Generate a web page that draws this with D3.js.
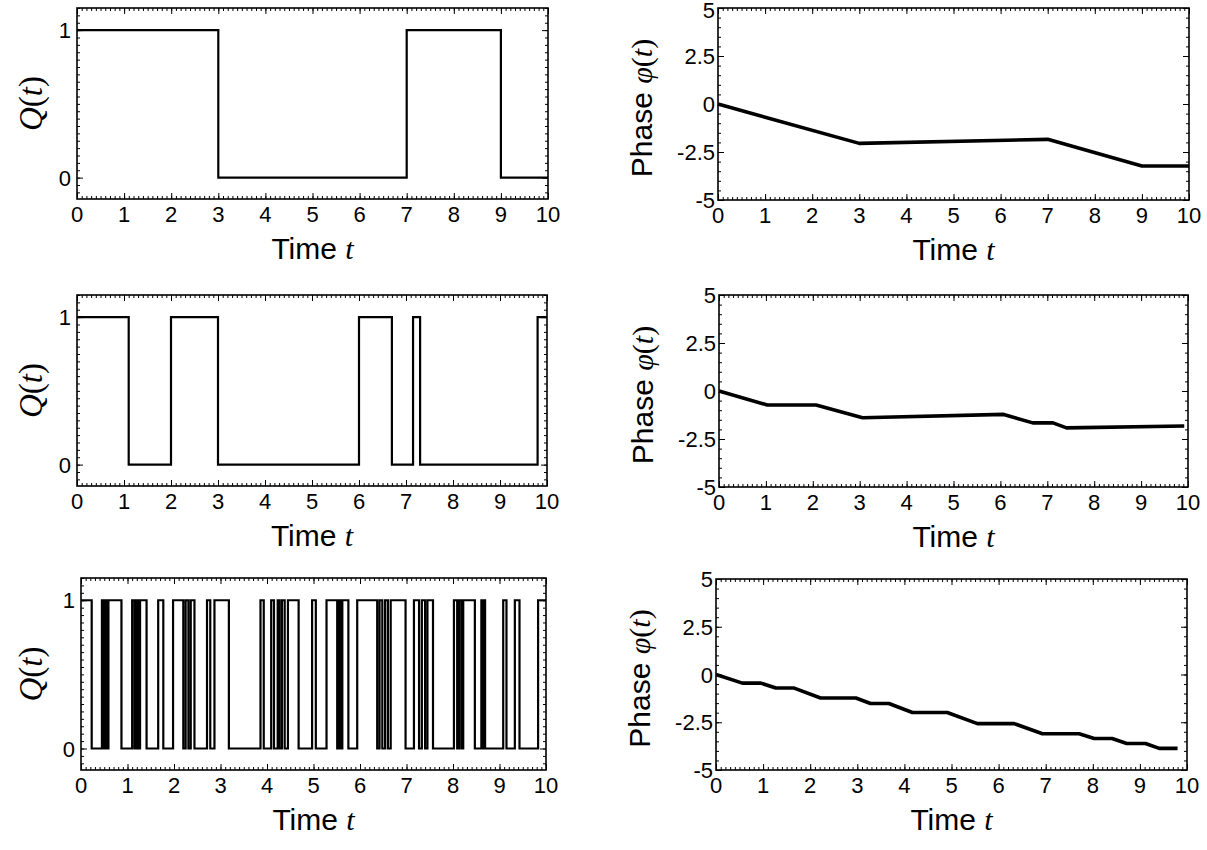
<!DOCTYPE html>
<html>
<head>
<meta charset="utf-8">
<script src="https://cdn.jsdelivr.net/npm/d3@7"></script>
<style>
  body { margin: 0; background: #fff; }
  text { fill: #000; }
</style>
</head>
<body>
<svg id="fig" width="1207" height="850"></svg>
<script>
// ---- data ----
var timeTicks = [0, 1, 2, 3, 4, 5, 6, 7, 8, 9, 10];
var qTicks = [0, 1];
var phaseTicks = [-5, -2.5, 0, 2.5, 5];

// times where Q(t) flips, Q starts at 1
var q1Switch = [3, 7, 9];
var q2Switch = [1.1, 2.0, 3.0, 6.0, 6.7, 7.15, 7.3, 9.8];
var q3Switch = [0.23, 0.45, 0.49, 0.53, 0.56, 0.59, 0.87, 1.10, 1.15, 1.19, 1.23, 1.27,
                1.41, 1.66, 1.77, 1.98, 2.20, 2.25, 2.31, 2.36, 2.44, 2.71, 2.78, 2.87,
                3.18, 3.86, 3.93, 4.09, 4.15, 4.23, 4.27, 4.32, 4.38, 4.45, 4.68, 4.97,
                5.05, 5.28, 5.51, 5.55, 5.58, 5.62, 5.75, 5.94, 6.37, 6.42, 6.48, 6.54,
                6.60, 6.66, 6.98, 7.16, 7.27, 7.33, 7.40, 7.45, 7.57, 8.02, 8.09, 8.13,
                8.18, 8.22, 8.47, 8.61, 8.65, 8.67, 8.69, 9.08, 9.15, 9.33, 9.43, 9.83];

// phase curves (breakpoints)
var phase1T = [0, 3, 7, 9, 10];
var phase1V = [0, -2.05, -1.84, -3.23, -3.23];
var phase2T = [0, 1.03, 2.07, 3.06, 6.07, 6.69, 7.12, 7.41, 9.92];
var phase2V = [0, -0.73, -0.73, -1.39, -1.22, -1.66, -1.66, -1.92, -1.82];
var phase3T = [0, 0.56, 0.95, 1.27, 1.66, 2.22, 2.97, 3.28, 3.67, 4.17, 4.91,
               5.55, 6.33, 6.93, 7.71, 8.03, 8.41, 8.72, 9.12, 9.41, 9.80];
var phase3V = [0, -0.45, -0.45, -0.71, -0.71, -1.23, -1.23, -1.52, -1.52, -1.99, -1.99,
               -2.57, -2.57, -3.1, -3.1, -3.35, -3.35, -3.61, -3.61, -3.87, -3.87];

var sans = "'Liberation Sans', Arial, Helvetica, sans-serif";
var serif = "'Liberation Serif', 'Times New Roman', serif";

var svg = d3.select("#fig");

// panel boxes: [left, top, right, bottom]
var panels = [
  { kind: "q", sw: q1Switch, box: [77, 8, 548, 199] },
  { kind: "p", t: phase1T, v: phase1V, box: [718, 8, 1189, 200] },
  { kind: "q", sw: q2Switch, box: [77, 295, 547, 486] },
  { kind: "p", t: phase2T, v: phase2V, box: [719, 295, 1188, 487] },
  { kind: "q", sw: q3Switch, box: [81, 578, 546, 770] },
  { kind: "p", t: phase3T, v: phase3V, box: [716, 579, 1187, 770] }
];

panels.forEach(drawPanel);

function drawPanel(p) {
  var b = p.box;
  var x = d3.scaleLinear().domain([0, 10]).range([b[0], b[2]]);
  var y = p.kind == "q"
    ? d3.scaleLinear().domain([-0.145, 1.15]).range([b[3], b[1]])
    : d3.scaleLinear().domain([-5, 5]).range([b[3], b[1]]);

  var g = svg.append("g");

  // minor + major ticks on all four sides, pointing in
  var xMinor = d3.range(0, 10.001, 0.1);
  var yMinor = p.kind == "q" ? d3.range(-0.1, 1.1501, 0.05) : d3.range(-5, 5.001, 0.5);
  var yMajor = p.kind == "q" ? qTicks : phaseTicks;

  function ticks(axis, tr, vals, size) {
    var a = g.append("g").attr("transform", tr)
      .call(axis.tickValues(vals).tickSizeInner(-size).tickSizeOuter(0).tickFormat(""));
    a.select(".domain").remove();
    a.selectAll("line").attr("stroke", "#000").attr("stroke-width", 1);
  }
  ticks(d3.axisBottom(x), "translate(0," + b[3] + ")", xMinor, 3);
  ticks(d3.axisTop(x), "translate(0," + b[1] + ")", xMinor, 3);
  ticks(d3.axisBottom(x), "translate(0," + b[3] + ")", timeTicks, 6);
  ticks(d3.axisTop(x), "translate(0," + b[1] + ")", timeTicks, 6);
  ticks(d3.axisLeft(y), "translate(" + b[0] + ",0)", yMinor, 3);
  ticks(d3.axisRight(y), "translate(" + b[2] + ",0)", yMinor, 3);
  ticks(d3.axisLeft(y), "translate(" + b[0] + ",0)", yMajor, 6);
  ticks(d3.axisRight(y), "translate(" + b[2] + ",0)", yMajor, 6);

  // data line
  var line = d3.line().x(function (d) { return x(d[0]); }).y(function (d) { return y(d[1]); });
  if (p.kind == "q") {
    var pts = [[0, 1]];
    var q = 1;
    p.sw.forEach(function (s) { q = 1 - q; pts.push([s, q]); });
    pts.push([10, q]);
    g.append("path").datum(pts)
      .attr("d", line.curve(d3.curveStepAfter))
      .attr("fill", "none").attr("stroke", "#000").attr("stroke-width", 2.2)
      .attr("stroke-linejoin", "miter");
  } else {
    var pts2 = p.t.map(function (t, i) { return [t, p.v[i]]; });
    g.append("path").datum(pts2)
      .attr("d", line)
      .attr("fill", "none").attr("stroke", "#000").attr("stroke-width", 3.6)
      .attr("stroke-linejoin", "round");
  }

  // frame
  g.append("rect")
    .attr("x", b[0]).attr("y", b[1])
    .attr("width", b[2] - b[0]).attr("height", b[3] - b[1])
    .attr("fill", "none").attr("stroke", "#000").attr("stroke-width", 1.6);

  // x tick labels
  g.selectAll("text.xt").data(timeTicks).enter().append("text")
    .attr("class", "xt")
    .attr("x", function (d) { return x(d); })
    .attr("y", b[3] + 23)
    .attr("text-anchor", "middle")
    .attr("font-family", sans).attr("font-size", 22)
    .text(function (d) { return d; });

  // y tick labels (top one kept inside the page)
  var labs = p.kind == "q" ? qTicks : phaseTicks;
  g.selectAll("text.yt").data(labs).enter().append("text")
    .attr("class", "yt")
    .attr("x", p.kind == "q" ? b[0] - 6 : b[0] - 3)
    .attr("y", function (d) { return Math.max(y(d) + 8, 18); })
    .attr("text-anchor", "end")
    .attr("font-family", sans).attr("font-size", 22)
    .text(function (d) { return d; });

  // x axis title
  var tt = g.append("text")
    .attr("x", (b[0] + b[2]) / 2).attr("y", b[3] + 60)
    .attr("text-anchor", "middle")
    .attr("font-family", sans).attr("font-size", 30);
  tt.append("tspan").text("Time ");
  tt.append("tspan").attr("font-family", serif).attr("font-style", "italic").text("t");

  // y axis title
  var cy = (b[1] + b[3]) / 2;
  if (p.kind == "q") {
    var yt = g.append("text")
      .attr("transform", "translate(42," + cy + ") rotate(-90)")
      .attr("text-anchor", "middle")
      .attr("font-family", serif).attr("font-size", 33);
    yt.append("tspan").attr("font-style", "italic").text("Q");
    yt.append("tspan").text("(");
    yt.append("tspan").attr("font-style", "italic").text("t");
    yt.append("tspan").text(")");
  } else {
    var pt = g.append("text")
      .attr("transform", "translate(" + (b[0] - 66) + "," + (cy + 4) + ") rotate(-90)")
      .attr("text-anchor", "middle")
      .attr("font-family", sans).attr("font-size", 30);
    pt.append("tspan").text("Phase ");
    pt.append("tspan").attr("font-family", serif).attr("font-style", "italic").text("φ");
    pt.append("tspan").attr("font-family", serif).text("(");
    pt.append("tspan").attr("font-family", serif).attr("font-style", "italic").text("t");
    pt.append("tspan").attr("font-family", serif).text(")");
  }
}
</script>
</body>
</html>
